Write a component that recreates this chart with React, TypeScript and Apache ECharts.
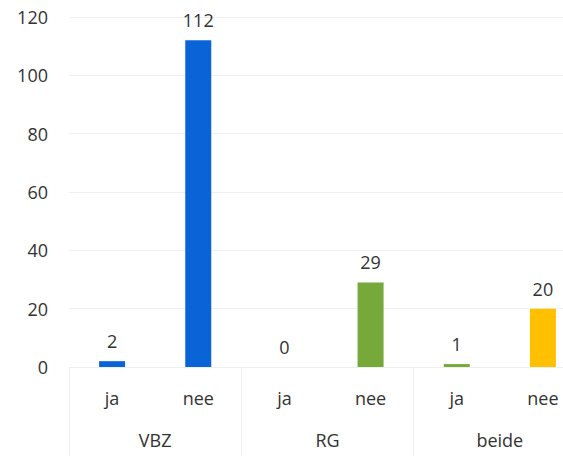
import React, { useEffect, useRef } from "react";
import * as echarts from "echarts";

const subCategories = ["ja", "nee", "ja", "nee", "ja", "nee"];
const groups = ["VBZ", "RG", "beide"];
const values = [2, 112, 0, 29, 1, 20];
const barColors = ["#0A64D8", "#0A64D8", "#76A83A", "#76A83A", "#76A83A", "#FFC000"];
const yTicks = [0, 20, 40, 60, 80, 100, 120];

export default function App() {
  const ref = useRef<HTMLDivElement>(null);
  useEffect(() => {
    if (!ref.current) return;
    const chart = echarts.init(ref.current, null, { renderer: "svg" });
    const font = "'Open Sans', 'Noto Sans', sans-serif";
    chart.setOption({
      animation: false,
      backgroundColor: "#ffffff",
      textStyle: { fontFamily: font },
      grid: { left: 69, right: 14, top: 17, bottom: 89, containLabel: false },
      xAxis: [
        {
          type: "category",
          data: subCategories,
          position: "bottom",
          axisLine: { show: true, lineStyle: { color: "#eeeeee", width: 1 } },
          axisTick: { show: false },
          axisLabel: { fontSize: 18, color: "#333333", margin: 22, fontFamily: font },
        },
        {
          type: "category",
          data: groups,
          position: "bottom",
          axisLine: { show: false },
          axisTick: { show: true, length: 95, lineStyle: { color: "#eeeeee", width: 1 } },
          axisLabel: { fontSize: 18, color: "#333333", margin: 64, fontFamily: font },
          splitLine: { show: false },
        },
      ],
      yAxis: {
        type: "value",
        min: yTicks[0],
        max: yTicks[yTicks.length - 1],
        interval: 20,
        axisLine: { show: false },
        axisTick: { show: false },
        axisLabel: { fontSize: 18, color: "#333333", margin: 21, fontFamily: font },
        splitLine: { lineStyle: { color: "#f0f0f0", width: 1 } },
      },
      series: [
        {
          type: "bar",
          xAxisIndex: 0,
          barWidth: 26,
          data: values.map((v, i) => ({ value: v, itemStyle: { color: barColors[i] } })),
          label: {
            show: true,
            position: "top",
            distance: 11,
            fontSize: 18,
            color: "#333333",
            fontFamily: font,
          },
        },
      ],
    });
    return () => chart.dispose();
  }, []);
  return (
    <div style={{ width: 563, height: 456, position: "fixed", left: 0, top: 0, overflow: "hidden", background: "#fff" }}>
      <div ref={ref} style={{ width: 600, height: 456 }} />
    </div>
  );
}
